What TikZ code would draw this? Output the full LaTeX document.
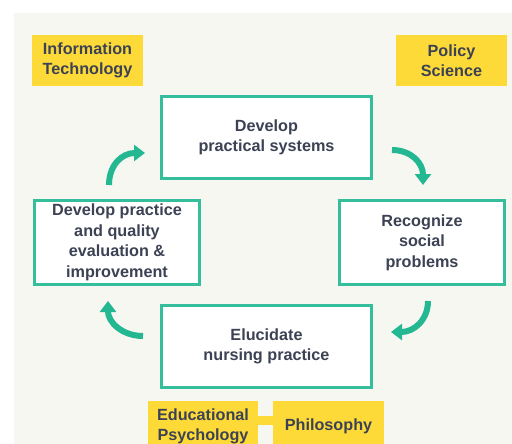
\documentclass[tikz,border=0pt]{standalone}
\usepackage{fontspec}
\setmainfont{Liberation Sans}
\usetikzlibrary{arrows.meta}
\definecolor{bgc}{RGB}{247,247,242}
\definecolor{teal1}{RGB}{52,190,155}
\definecolor{tealarr}{RGB}{36,184,146}
\definecolor{yel}{RGB}{253,218,56}
\definecolor{txt}{RGB}{60,66,84}
\begin{document}
\begin{tikzpicture}[x=1pt,y=-1pt,
  txtstyle/.style={font=\fontsize{16.2}{20.5}\selectfont\bfseries, text=txt, align=center, inner sep=0pt},
  stagebox/.style={txtstyle, draw=teal1, line width=3pt, fill=white},
  fieldbox/.style={txtstyle, fill=yel},
  cyclearrow/.style={draw=tealarr, line width=6pt, -{Triangle[width=16pt,length=11pt]}}]
\clip (0,0) rectangle (512,444);
\useasboundingbox (0,0) rectangle (512,444);
\fill[white] (0,0) rectangle (512,444);
\fill[bgc] (14,13) rectangle (512,444);
% field boxes
\node[fieldbox, minimum width=111pt, minimum height=51pt] (it) at (87.5,60.5) {Information\\Technology};
\node[fieldbox, minimum width=111pt, minimum height=51pt] (ps) at (451.5,60.5) {Policy\\Science};
\node[fieldbox, minimum width=110pt, minimum height=51pt] (edu) at (203,426.5) {Educational\\Psychology};
\node[fieldbox, minimum width=111pt, minimum height=51pt] (phil) at (328.5,426.5) {Philosophy};
\draw[yel, line width=9pt] (edu.east |- 0,420) -- (phil.west |- 0,420);
% stage boxes
\node[stagebox, minimum width=210pt, minimum height=82pt] (dps) at (266.5,137.5) {Develop\\practical systems};
\node[stagebox, minimum width=165pt, minimum height=84pt] (dpq) at (117,242.5) {Develop practice\\and quality\\evaluation \&\\improvement};
\node[stagebox, minimum width=165pt, minimum height=84pt] (rsp) at (422,242.5) {Recognize\\social\\problems};
\node[stagebox, minimum width=210pt, minimum height=82pt] (enp) at (266.5,346.5) {Elucidate\\nursing practice};
% arrow end points
\coordinate (a1s) at (109,185);
\coordinate (a1e) at (145,153);
\coordinate (a2s) at (392,150);
\coordinate (a2e) at (423,185);
\coordinate (a3s) at (428,301);
\coordinate (a3e) at (391,332);
\coordinate (a4s) at (143,336);
\coordinate (a4e) at (108,301);
\draw[cyclearrow] (a1s) .. controls (109,165) and (122,153) .. (a1e);
\draw[cyclearrow] (a2s) .. controls (411,150) and (423,163) .. (a2e);
\draw[cyclearrow] (a3s) .. controls (428,320) and (414,332) .. (a3e);
\draw[cyclearrow] (a4s) .. controls (122,336) and (108,322) .. (a4e);
\end{tikzpicture}
\end{document}
